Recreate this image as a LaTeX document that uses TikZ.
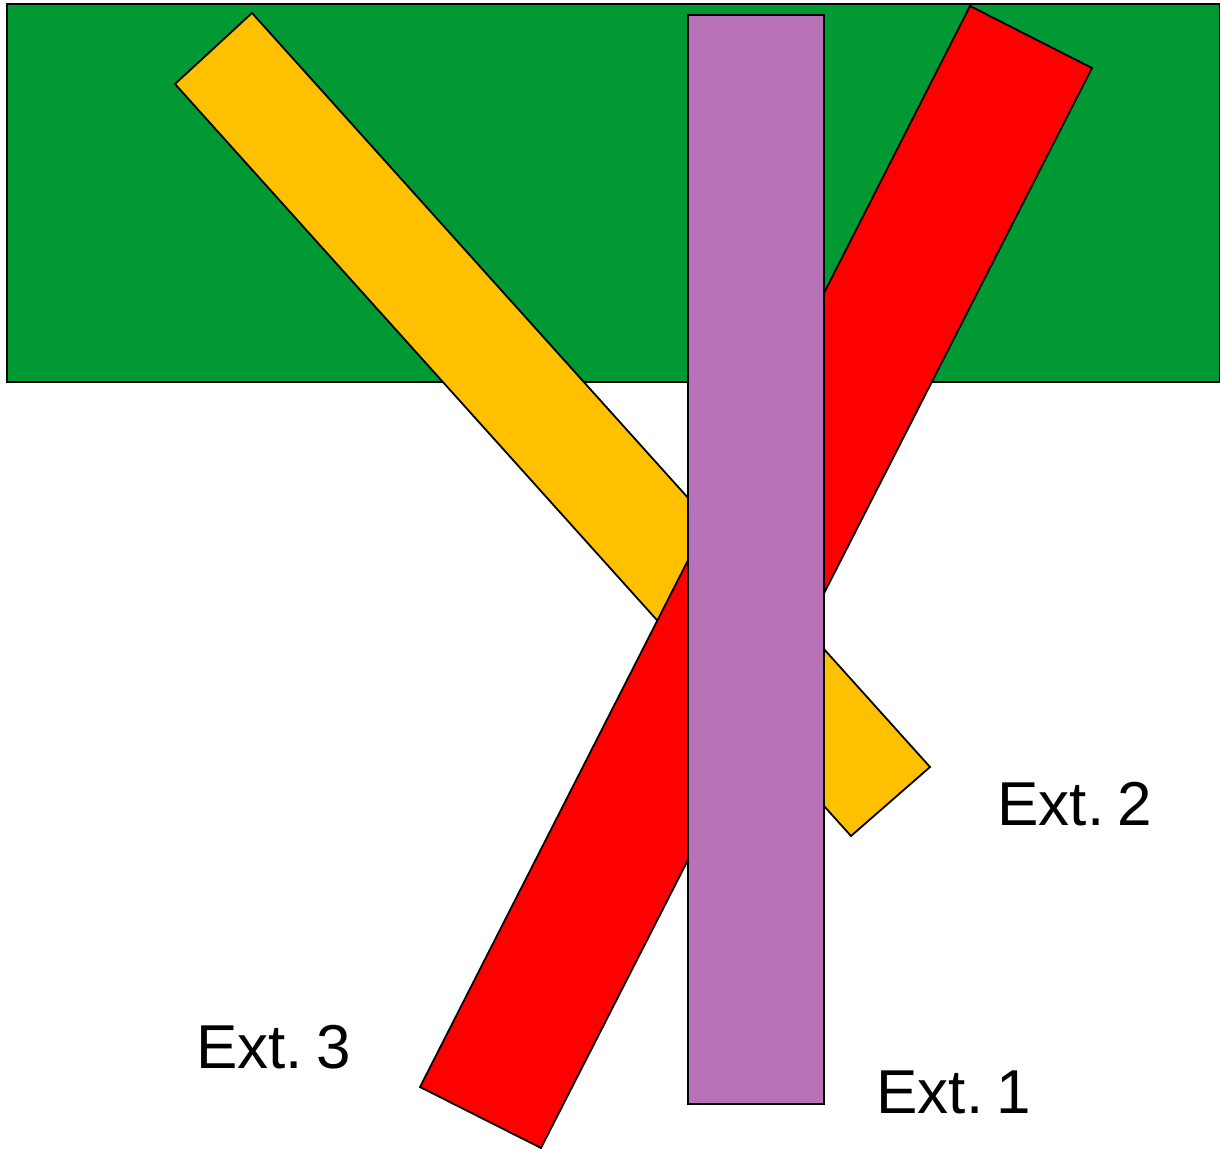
\documentclass[tikz,border=0pt]{standalone}
\usepackage{fontspec}
\setmainfont{Liberation Sans}
\definecolor{cgreen}{RGB}{0,153,51}
\definecolor{cyellow}{RGB}{255,192,0}
\definecolor{cred}{RGB}{255,0,0}
\definecolor{cpurple}{RGB}{184,114,184}
\begin{document}
\begin{tikzpicture}[x=0.5pt,y=-0.5pt,
  bar/.style={draw=black,line width=0.9pt,line join=miter},
  lbl/.style={anchor=base west,inner sep=0pt,font=\fontsize{31pt}{36pt}\selectfont}]
\useasboundingbox (0,0) rectangle (1220,1149);
\fill[white] (0,0) rectangle (1220,1149);
% green band
\filldraw[fill=cgreen,draw=black,line width=0.7pt] (7,4) rectangle (1220,382);
% yellow bar
\filldraw[bar,fill=cyellow] (252,13) -- (930,767) -- (851,836) -- (175,84) -- cycle;
% red bar
\filldraw[bar,fill=cred] (970,6) -- (1092,68) -- (541,1148) -- (420,1087) -- cycle;
% purple bar
\filldraw[bar,fill=cpurple] (688,15) rectangle (824,1104);
% labels
\node[lbl] (e2) at (997,825) {Ext.\hspace{0.22em}2};
\node[lbl] (e3) at (196,1068) {Ext.\hspace{0.22em}3};
\node[lbl] (e1) at (876,1113) {Ext.\hspace{0.22em}1};
\end{tikzpicture}
\end{document}
